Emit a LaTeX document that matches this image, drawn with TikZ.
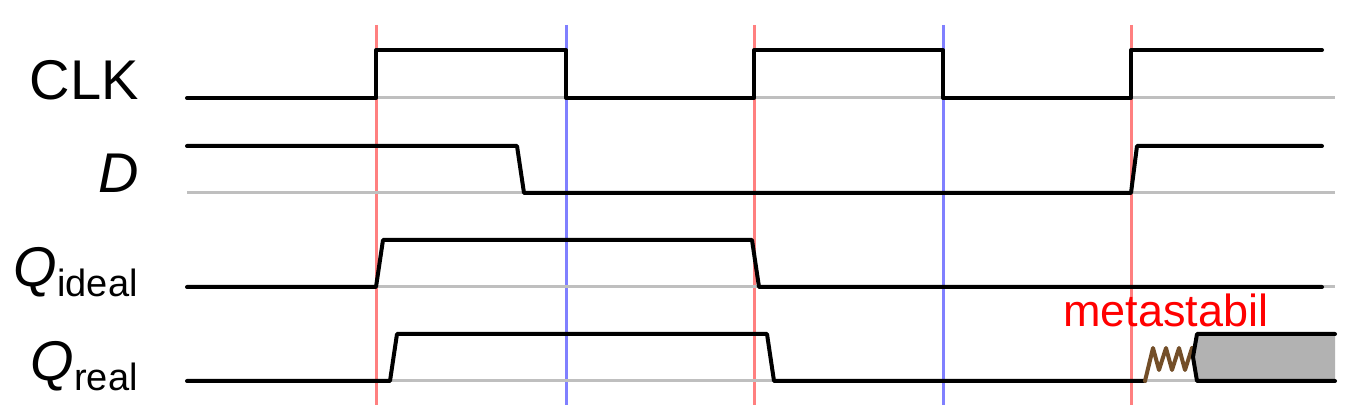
\documentclass[tikz,border=0pt]{standalone}
\usepackage{fontspec}
\setmainfont{Liberation Sans}
\usetikzlibrary{positioning}
\definecolor{metabrown}{RGB}{115,78,40}
\tikzset{
  signal/.style={line width=2pt, line join=round, line cap=round},
  zeroline/.style={black!25, line width=1.5pt},
  clkrise/.style={red!50, line width=1.5pt},
  clkfall/.style={blue!50, line width=1.5pt},
  siglabel/.style={anchor=base east, inner sep=0pt, font=\fontsize{28}{34}\selectfont},
}
\newcommand{\lowsub}[1]{\raisebox{-5pt}{\fontsize{19}{23}\selectfont #1}}
\begin{document}
\begin{tikzpicture}[x=0.5pt, y=-0.5pt]
\useasboundingbox (0,0) rectangle (1355,410);
% clock edges
\foreach \x in {376,754,1131} \draw[clkrise] (\x,25) -- (\x,405);
\foreach \x in {566,943} \draw[clkfall] (\x,25) -- (\x,405);
% zero levels
\foreach \y in {98,193,287,381} \draw[zeroline] (187,\y) -- (1335,\y);
% labels
\node[siglabel] (clk) at (139,100) {CLK};
\node[siglabel] (d) at (139,193) {\textit{D}};
\node[siglabel] (qi) at (138,287) {\textit{Q}\lowsub{ideal}};
\node[siglabel] (qr) at (138,381) {\textit{Q}\lowsub{real}};
% signals
\draw[signal] (187,98) -- (376,98) -- (376,50) -- (566,50) -- (566,98) -- (754,98)
  -- (754,50) -- (943,50) -- (943,98) -- (1131,98) -- (1131,50) -- (1322,50);
\draw[signal] (187,146) -- (517,146) -- (524,193) -- (1131,193) -- (1137,146) -- (1322,146);
\draw[signal] (187,287) -- (376,287) -- (383,240) -- (752,240) -- (759,287) -- (1322,287);
\draw[signal] (187,381) -- (390,381) -- (397,334) -- (767,334) -- (774,381) -- (1145,381);
% metastable part
\draw[signal, metabrown] (1145,381) -- (1153,348) -- (1159,370) -- (1166,348) -- (1172,370)
  -- (1179,348) -- (1185,370) -- (1192,348);
\fill[black!30] (1196,334) -- (1335,334) -- (1335,381) -- (1196,381) -- (1193,357) -- cycle;
\draw[signal] (1335,334) -- (1197,334) -- (1193,357) -- (1197,381) -- (1335,381);
\node[anchor=base west, inner sep=0pt, red, font=\fontsize{22.5}{27}\selectfont] (meta) at (1063,327) {metastabil};
\end{tikzpicture}
\end{document}
